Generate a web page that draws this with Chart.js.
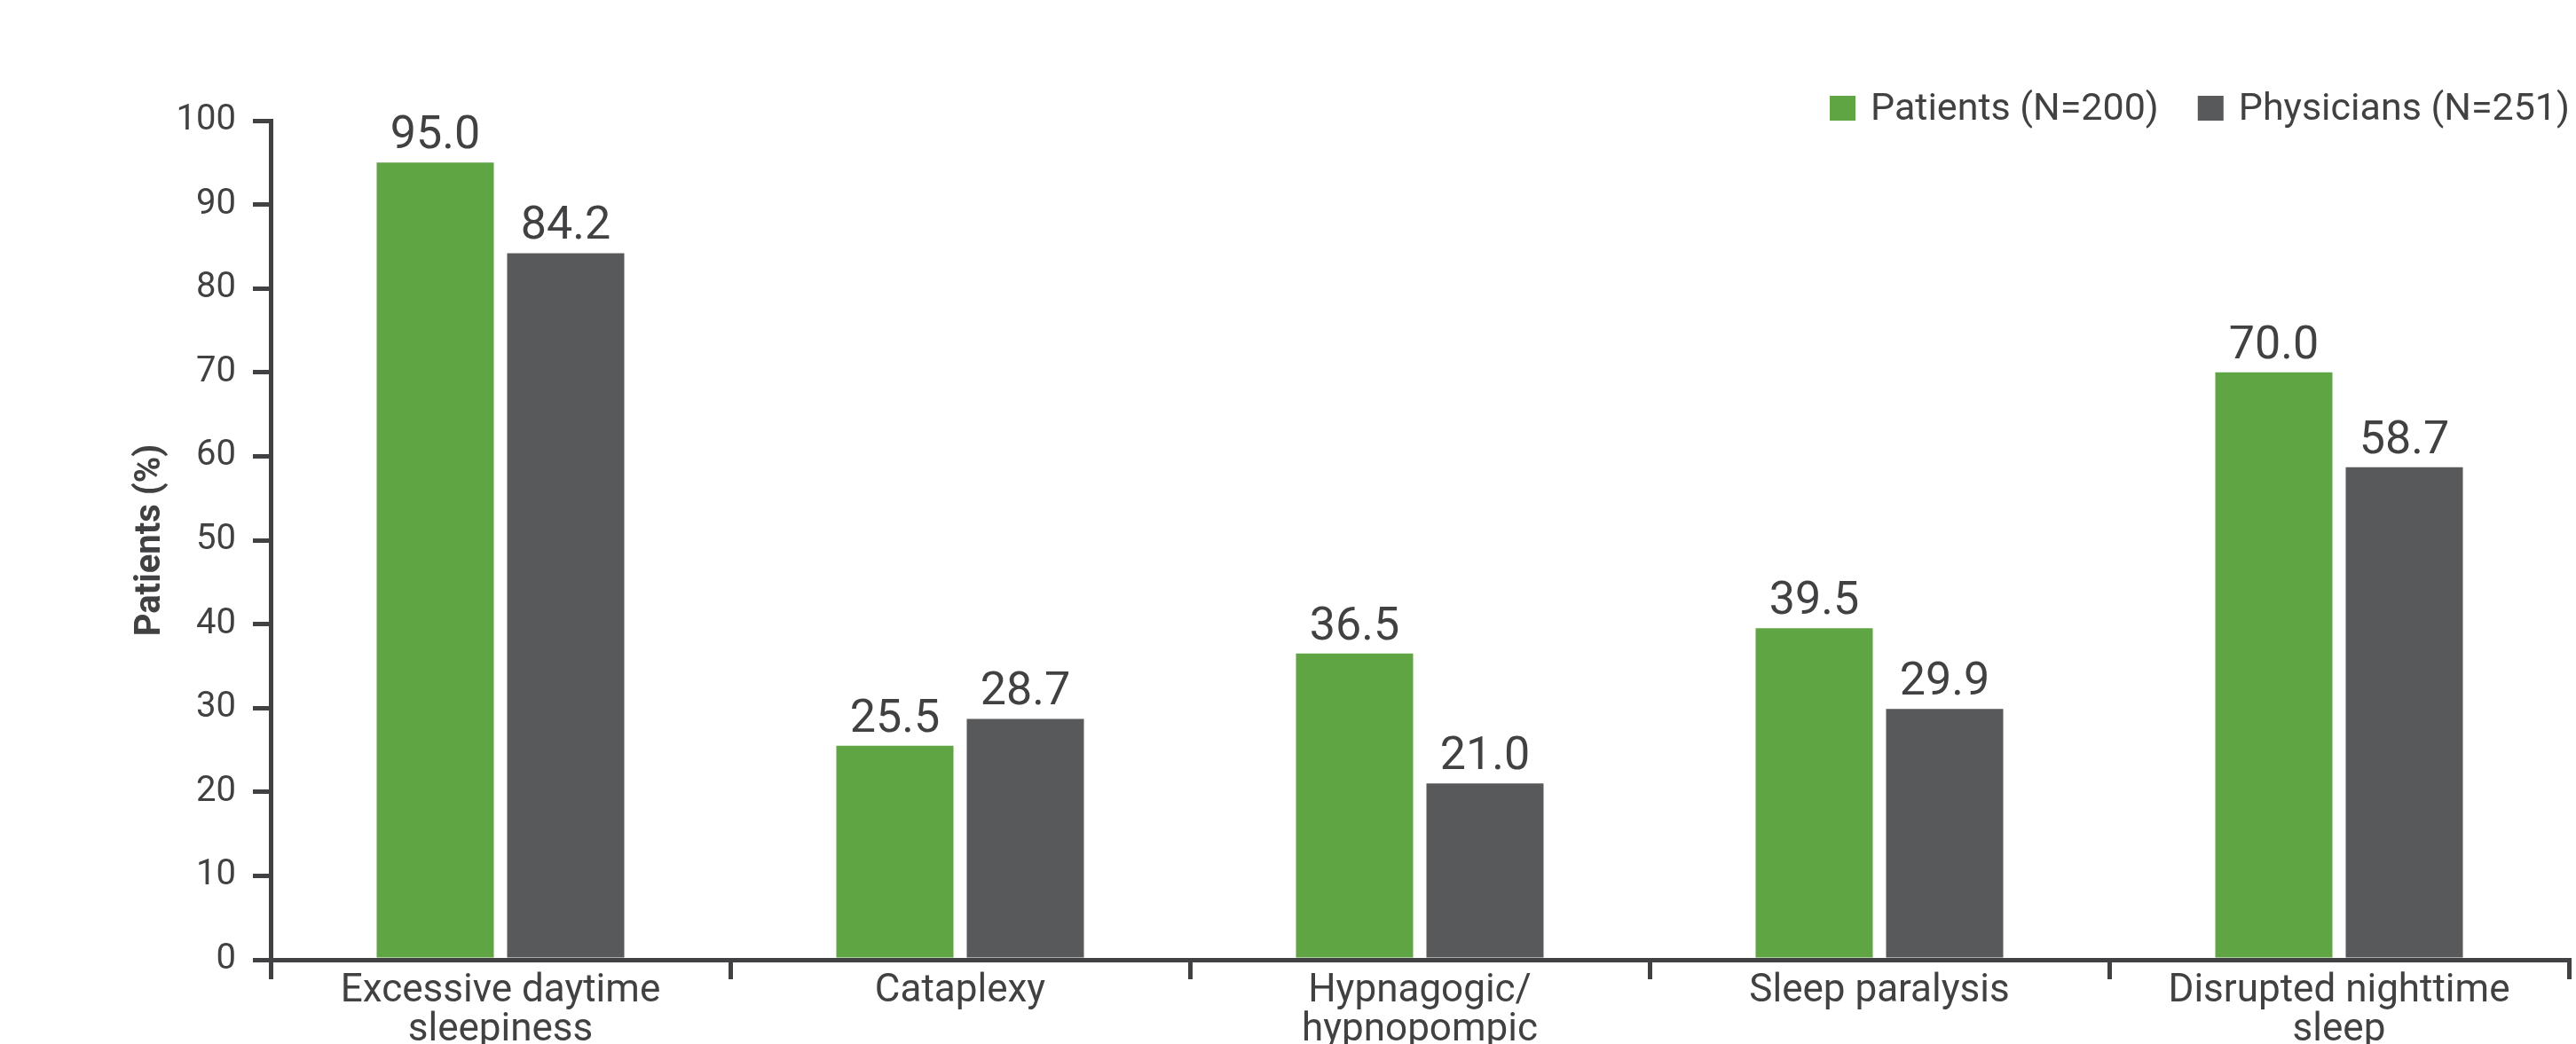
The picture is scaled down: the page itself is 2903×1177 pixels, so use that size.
<!DOCTYPE html>
<html>
<head>
  <title>Symptoms reported</title>
  <script src="https://cdn.jsdelivr.net/npm/chart.js"></script>
  <style>
    html, body { margin: 0; padding: 0; background: #fff; overflow: hidden; }
    canvas { display: block; }
  </style>
</head>
<body>
  <canvas id="symptom-chart" width="2903" height="1300"></canvas>
  <script>
    const categories = [
      ["Excessive daytime", "sleepiness"],
      "Cataplexy",
      ["Hypnagogic/", "hypnopompic", "hallucinations"],
      "Sleep paralysis",
      ["Disrupted nighttime", "sleep"]
    ];
    const seriesNames = ["Patients (N=200)", "Physicians (N=251)"];
    const patients = [95.0, 25.5, 36.5, 39.5, 70.0];
    const physicians = [84.2, 28.7, 21.0, 29.9, 58.7];
    const yMin = 0;
    const yMax = 100;
    const yStep = 10;

    const ink = "#414042";
    const green = "#60a544";
    const grey = "#58595b";

    // value printed above every bar
    const barValues = {
      id: "barValues",
      afterDatasetsDraw(chart) {
        const ctx = chart.ctx;
        ctx.save();
        ctx.font = "52px Roboto";
        ctx.fillStyle = ink;
        ctx.textAlign = "center";
        ctx.textBaseline = "alphabetic";
        chart.data.datasets.forEach(function(ds, i) {
          chart.getDatasetMeta(i).data.forEach(function(bar, j) {
            ctx.fillText(ds.data[j].toFixed(1), bar.x, bar.y - 16);
          });
        });
        ctx.restore();
      }
    };

    // legend in the top right corner, laid out from the right edge
    const cornerLegend = {
      id: "cornerLegend",
      afterDraw(chart) {
        const ctx = chart.ctx;
        ctx.save();
        ctx.font = "43px Roboto";
        ctx.textBaseline = "alphabetic";
        let x = chart.width - 7;
        for (let i = chart.data.datasets.length - 1; i >= 0; i--) {
          const ds = chart.data.datasets[i];
          x -= ctx.measureText(ds.label).width;
          ctx.fillStyle = ink;
          ctx.fillText(ds.label, x, 135);
          x -= 17 + 29;
          ctx.fillStyle = ds.backgroundColor;
          ctx.fillRect(x, 108, 29, 28);
          x -= 44;
        }
        ctx.restore();
      }
    };

    const ctx = document.getElementById("symptom-chart").getContext("2d");
    new Chart(ctx, {
      type: "bar",
      data: {
        labels: categories,
        datasets: [
          { label: seriesNames[0], data: patients, backgroundColor: green, categoryPercentage: 0.5676, barPercentage: 0.898 },
          { label: seriesNames[1], data: physicians, backgroundColor: grey, categoryPercentage: 0.5676, barPercentage: 0.898 }
        ]
      },
      options: {
        responsive: false,
        animation: false,
        layout: { padding: { top: 136, right: 8, bottom: 0, left: 0 } },
        plugins: {
          legend: { display: false },
          tooltip: { enabled: false }
        },
        scales: {
          x: {
            z: 1,
            grid: { drawOnChartArea: false, offset: true, tickLength: 22, lineWidth: 5, color: ink },
            border: { color: ink, width: 5 },
            ticks: {
              color: ink,
              padding: -8,
              font: { family: "Roboto", size: 44, lineHeight: 1.0 },
              maxRotation: 0,
              autoSkip: false
            },
            afterFit(scale) { scale.height = 218; }
          },
          y: {
            z: 1,
            min: yMin,
            max: yMax,
            grid: { drawOnChartArea: false, tickLength: 20, lineWidth: 5, color: ink },
            border: { color: ink, width: 5 },
            ticks: {
              stepSize: yStep,
              color: ink,
              padding: 19,
              font: { family: "Roboto", size: 40 }
            },
            title: {
              display: true,
              text: "Patients (%)",
              color: ink,
              padding: { top: 146, bottom: 0 },
              font: { family: "Roboto", size: 40, weight: "bold", lineHeight: 1.2 }
            },
            afterFit(scale) { scale.width = 305; }
          }
        }
      },
      plugins: [barValues, cornerLegend]
    });
  </script>
</body>
</html>
